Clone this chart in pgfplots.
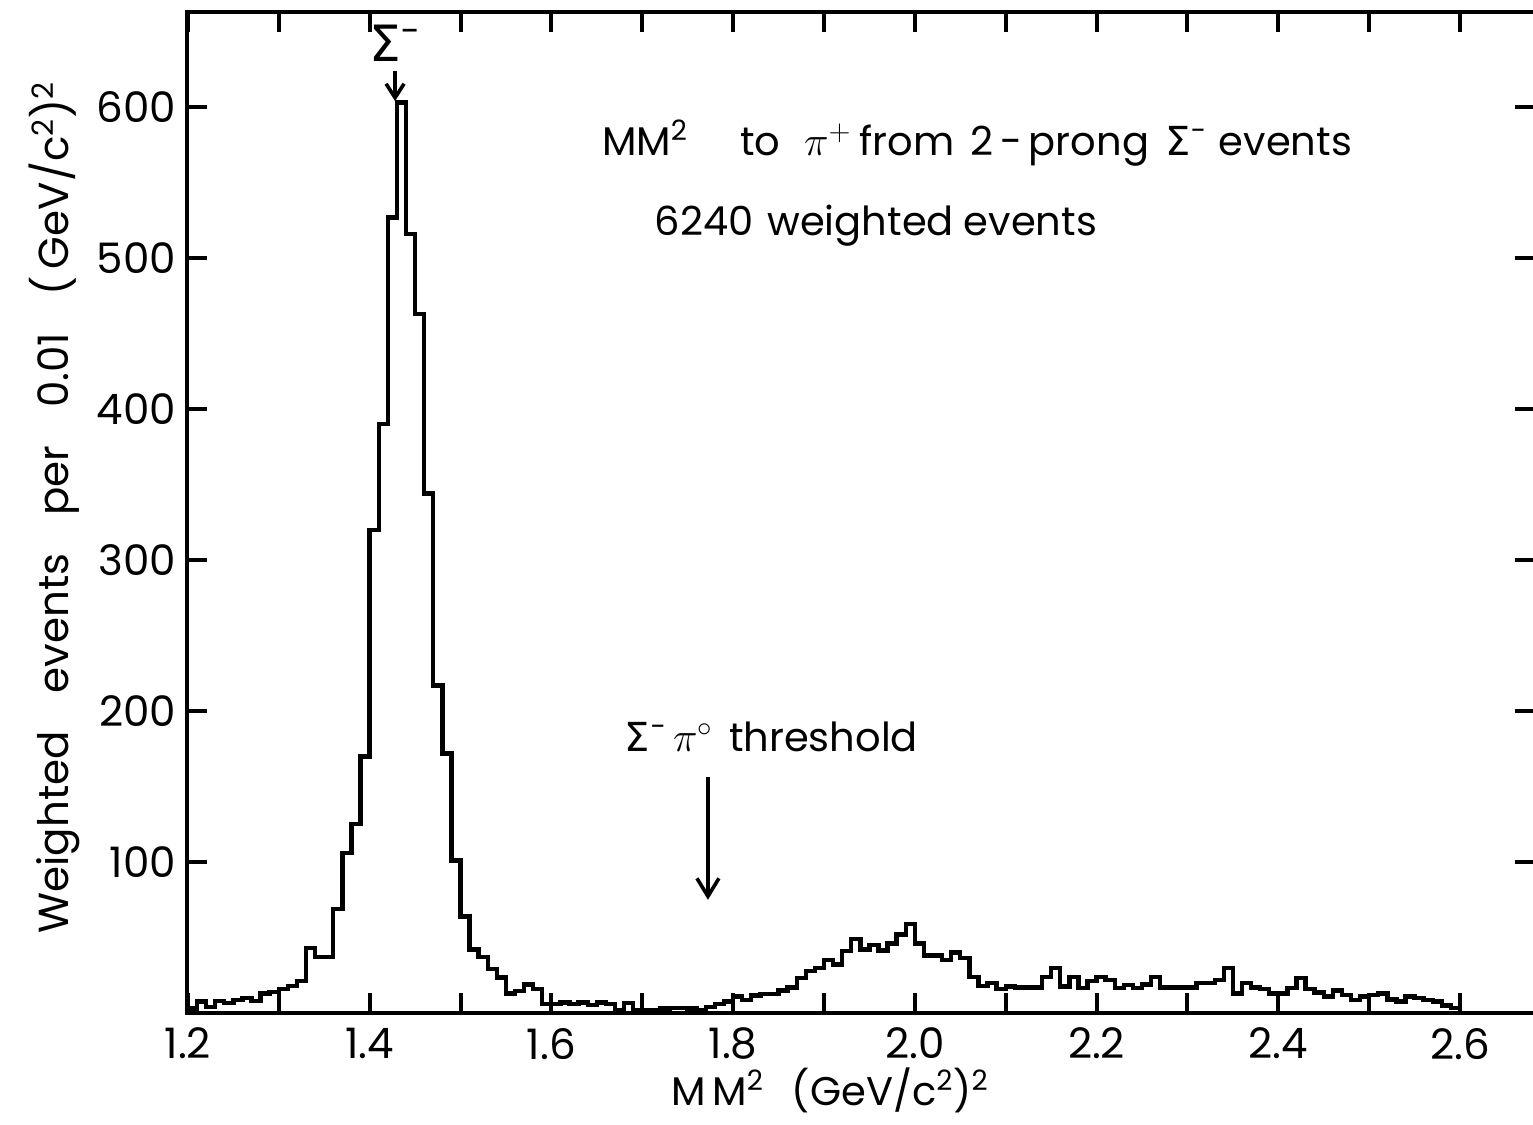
\documentclass[border=0pt]{standalone}
\usepackage{fontspec}
\setmainfont{Poppins}
\newfontfamily\gr{DejaVu Sans}
\usepackage{pgfplots}
\pgfplotsset{compat=1.18}
\usetikzlibrary{arrows.meta}
\pgfplotstableread{
x y
1.20 3
1.21 7.5
1.22 4
1.23 8
1.24 6.5
1.25 8.7
1.26 10
1.27 8
1.28 13
1.29 14
1.30 16
1.31 18
1.32 21
1.33 43
1.34 37
1.35 37
1.36 69
1.37 106
1.38 125
1.39 170
1.40 320
1.41 390
1.42 527
1.43 603
1.44 516
1.45 463
1.46 344
1.47 217
1.48 172
1.49 101
1.50 64
1.51 42
1.52 37
1.53 29
1.54 23.5
1.55 13
1.56 14.5
1.57 19
1.58 16
1.59 6
1.60 6
1.61 7
1.62 6
1.63 7
1.64 5.3
1.65 7
1.66 6
1.67 2
1.68 6.7
1.69 2
1.70 2
1.71 2
1.72 3
1.73 3.5
1.74 3.5
1.75 3
1.76 2
1.77 4
1.78 6
1.79 7.5
1.80 11
1.81 8.7
1.82 11.7
1.83 12.5
1.84 12.5
1.85 15
1.86 17
1.87 23
1.88 28
1.89 30
1.90 35
1.91 32
1.92 41
1.93 49
1.94 42
1.95 45
1.96 41.5
1.97 46
1.98 52
1.99 59
2.00 46
2.01 38
2.02 38
2.03 35
2.04 40
2.05 36.5
2.06 24
2.07 18
2.08 20
2.09 16
2.10 17.5
2.11 17
2.12 17
2.13 17
2.14 24
2.15 30
2.16 17.5
2.17 24
2.18 16.5
2.19 21
2.20 24
2.21 22
2.22 16.5
2.23 18.6
2.24 16.5
2.25 19
2.26 24
2.27 17
2.28 17
2.29 17
2.30 17
2.31 20
2.32 20
2.33 22
2.34 30
2.35 13
2.36 20
2.37 17
2.38 16
2.39 13
2.40 13
2.41 16.5
2.42 23
2.43 16
2.44 13.5
2.45 11
2.46 15
2.47 12
2.48 8.7
2.49 11
2.50 12
2.51 13
2.52 9
2.53 7.5
2.54 11
2.55 10
2.56 8.5
2.57 7.5
2.58 5
2.59 3.5
2.60 0
}\histdata
\begin{document}
\begin{tikzpicture}
\begin{axis}[
  scale only axis, width=674pt, height=500.5pt,
  xmin=1.199, xmax=2.6825, ymin=0, ymax=663,
  axis line style={line width=2pt},
  every tick/.style={line width=2pt, black},
  major tick length=10pt,
  tick align=inside,
  xtick={1.2,1.3,1.4,1.5,1.6,1.7,1.8,1.9,2.0,2.1,2.2,2.3,2.4,2.5,2.6},
  xticklabels={1.2,,1.4,,1.6,,1.8,,2.0,,2.2,,2.4,,2.6},
  ytick={100,200,300,400,500,600},
  yticklabels={100,200,300,400,500,600},
  tick label style={font=\fontsize{21}{21}\selectfont},
  xticklabel style={yshift=-4pt},
  yticklabel style={xshift=-2pt},
  xlabel={M\,M\textsuperscript{2}\hspace{0.7em}(GeV/c\textsuperscript{2})\textsuperscript{2}},
  xlabel style={at={(axis description cs:0.477,-0.077)}, anchor=center, font=\fontsize{20}{20}\selectfont},
  ylabel={Weighted\hspace{0.9em}events\hspace{0.9em}per\hspace{0.9em}0.01\hspace{0.9em}(\,GeV/c\textsuperscript{2})\textsuperscript{2}},
  ylabel style={at={(axis description cs:-0.098,0.505)}, anchor=center, font=\fontsize{21}{21}\selectfont},
  clip=false,
]
\addplot[const plot, line width=2.2pt, black] table[x=x,y=y] {\histdata};
\node[anchor=base, font=\fontsize{25}{25}\selectfont] at (axis cs:1.428,630) {{\gr Σ}\textsuperscript{−}};
\draw[line width=1.8pt, -{Straight Barb[length=7pt,width=9pt]}] (axis cs:1.428,624) -- (axis cs:1.428,604);
\node[anchor=base west, font=\fontsize{20}{20}\selectfont] at (axis cs:1.648,568)
  {MM\textsuperscript{2}\hspace{1.3em}to\hspace{0.6em}$\pi^{+}$\hspace{0.2em}from\hspace{0.4em}2\,-\,prong\hspace{0.4em}{\gr Σ}\textsuperscript{−}\hspace{0.3em}events};
\node[anchor=base west, font=\fontsize{20}{20}\selectfont] at (axis cs:1.706,515)
  {6240\hspace{0.35em}weighted\hspace{0.25em}events};
\node[anchor=base west, font=\fontsize{20}{20}\selectfont] at (axis cs:1.673,173)
  {{\gr Σ}\textsuperscript{−}\,$\pi^{\circ}$\hspace{0.4em}threshold};
\draw[line width=1.8pt, -{Straight Barb[length=9pt,width=11pt]}] (axis cs:1.7723,156) -- (axis cs:1.7723,75);
\end{axis}
\pgfresetboundingbox
\path[use as bounding box] ([xshift=-93.5pt,yshift=-56pt]current axis.south west) rectangle ([xshift=-1pt,yshift=6pt]current axis.north east);
\end{tikzpicture}
\end{document}
